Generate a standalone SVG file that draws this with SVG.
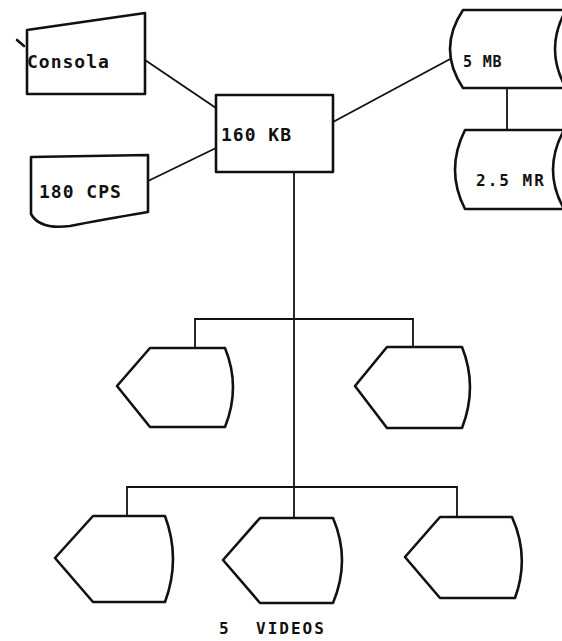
<svg xmlns="http://www.w3.org/2000/svg" width="562" height="641" viewBox="0 0 562 641">
<style>
.s{fill:none;stroke:#111;stroke-width:2.6;stroke-linejoin:round;stroke-linecap:round}
.c{fill:none;stroke:#111;stroke-width:1.8}
.t{font-family:"DejaVu Sans Mono","Liberation Mono",monospace;font-weight:bold;font-size:18px;letter-spacing:1px;fill:#111}
.u{font-size:16px;letter-spacing:2px}
</style>
<rect width="562" height="641" fill="#fff"/>
<g id="connectors">
<line class="c" x1="145" y1="60" x2="216" y2="108"/>
<line class="c" x1="148" y1="181" x2="216" y2="148"/>
<line class="c" x1="333" y1="122" x2="452" y2="58"/>
<line class="c" x1="507" y1="88" x2="507" y2="130"/>
<line class="c" x1="294" y1="172" x2="294" y2="518"/>
<polyline class="c" points="195,348 195,319 413,319 413,347"/>
<polyline class="c" points="127,516 127,487 457,487 457,517"/>
</g>
<g id="consola">
<polygon class="s" points="27,30 145,13 145,94 27,94"/>
<line class="s" x1="17" y1="40" x2="24" y2="46"/>
<text class="t" x="27" y="68">Consola</text>
</g>
<g id="cps">
<path class="s" d="M31,157 L148,155 L148,212 Q100,220 70,226 Q40,230 31,214 Z"/>
<text class="t" x="39" y="198">180 CPS</text>
</g>
<g id="kb">
<rect class="s" x="216" y="95" width="117" height="77"/>
<text class="t" x="221" y="141">160 KB</text>
</g>
<g id="mb5">
<path class="s" d="M570,10 L463,10 Q437,49 463,88 L570,88"/>
<path class="s" d="M566,10 Q544,49 566,88"/>
<text class="t" x="463" y="67" style="font-size:15px;letter-spacing:0.8px">5 MB</text>
</g>
<g id="mb25">
<path class="s" d="M570,130 L465,130 Q445,170 465,209 L570,209"/>
<path class="s" d="M564,130 Q542,170 564,209"/>
<text class="t u" x="476" y="186">2.5 MR</text>
</g>
<g id="display1">
<path class="s" d="M150,348 L225,348 Q241,387 225,427 L150,427 L117,386 Z"/>
</g>
<g id="display2">
<path class="s" d="M387,347 L462,347 Q478,387 462,428 L387,428 L355,386 Z"/>
</g>
<g id="display3">
<path class="s" d="M93,516 L165,516 Q181,559 165,602 L93,602 L55,558 Z"/>
</g>
<g id="display4">
<path class="s" d="M260,518 L333,518 Q351,560 333,603 L260,603 L223,560 Z"/>
</g>
<g id="display5">
<path class="s" d="M440,517 L512,517 Q530,557 515,598 L440,598 L405,557 Z"/>
</g>
<text class="t u" y="634"><tspan x="219">5</tspan><tspan x="256">VIDEOS</tspan></text>
</svg>
